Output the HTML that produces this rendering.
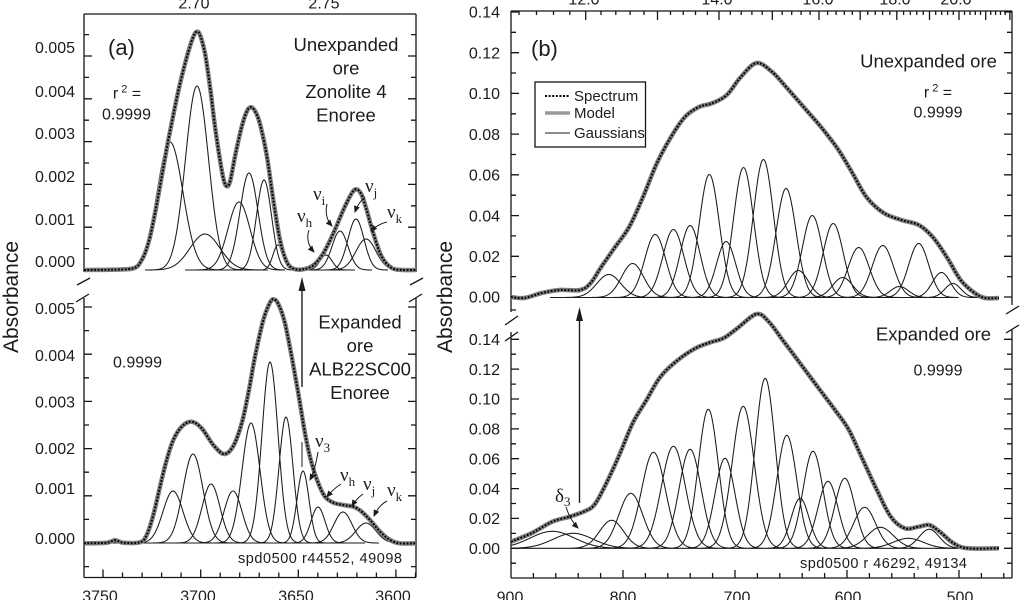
<!DOCTYPE html>
<html><head><meta charset="utf-8"><title>Absorbance spectra</title>
<style>
html,body{margin:0;padding:0;background:#fff;width:1024px;height:600px;overflow:hidden}
svg{display:block}
text{font-family:"Liberation Sans",Arial,sans-serif;fill:#1c1c1c}
.t{font-size:16px}
.lab{font-size:18.5px}
.nu{font-family:"Liberation Serif",serif;font-size:19px}
</style></head><body>
<svg width="1024" height="600" viewBox="0 0 1024 600" xmlns="http://www.w3.org/2000/svg">
<defs><marker id="ah" markerWidth="7" markerHeight="6" refX="6" refY="3" orient="auto" markerUnits="userSpaceOnUse"><path d="M0,0L7,3L0,6z" fill="#1c1c1c"/></marker></defs>

<path id="axes" d="" stroke="#151515" stroke-width="1.3" fill="none"/>
<path id="gauss" d="" stroke="#1a1a1a" stroke-width="1.05" fill="none"/>
<path id="envG" d="" stroke="#7d7d7d" stroke-width="4.5" fill="none" stroke-linejoin="round"/>
<path id="envD" d="" stroke="#000" stroke-width="2" stroke-dasharray="1.8,1.6" fill="none"/>

<!-- arrows -->
<g stroke="#1c1c1c" stroke-width="1" fill="none">
<path d="M309,230 Q305,242 314,252" marker-end="url(#ah)"/>
<path d="M327,204 Q324,217 332,226" marker-end="url(#ah)"/>
<path d="M365,197 Q358,203 355,212" marker-end="url(#ah)"/>
<path d="M387,222 Q378,224 371,231" marker-end="url(#ah)"/>
<path d="M318,452 Q315,470 310,480" marker-end="url(#ah)"/>
<path d="M341,484 Q333,489 327,497" marker-end="url(#ah)"/>
<path d="M363,494 Q356,499 352,506" marker-end="url(#ah)"/>
<path d="M387,501 Q379,505 374,516" marker-end="url(#ah)"/>
<path d="M302,442 L302,467"/>
<path d="M566,507 Q570,520 578,528" marker-end="url(#ah)"/>
<path d="M302,387 L302,288" stroke-width="1.4"/>
<path d="M579.5,503 L579.5,318" stroke-width="1.4"/>
</g>
<polygon points="302,277 298.5,291 305.5,291" fill="#1c1c1c"/>
<polygon points="579.5,307 576,321 583,321" fill="#1c1c1c"/>

<!-- tick labels -->
<g class="t" text-anchor="end">
<text x="75" y="53">0.005</text><text x="75" y="97">0.004</text><text x="75" y="139">0.003</text>
<text x="75" y="182">0.002</text><text x="75" y="225">0.001</text><text x="75" y="267">0.000</text>
<text x="75" y="314">0.005</text><text x="75" y="361">0.004</text><text x="75" y="407.5">0.003</text>
<text x="75" y="454">0.002</text><text x="75" y="494">0.001</text><text x="75" y="544">0.000</text>
<text x="500" y="17.7">0.14</text><text x="500" y="58.4">0.12</text><text x="500" y="99.1">0.10</text>
<text x="500" y="139.8">0.08</text><text x="500" y="180.5">0.06</text><text x="500" y="221.3">0.04</text>
<text x="500" y="262">0.02</text><text x="500" y="302.7">0.00</text>
<text x="500" y="345">0.14</text><text x="500" y="374.8">0.12</text><text x="500" y="404.7">0.10</text>
<text x="500" y="434.6">0.08</text><text x="500" y="464.4">0.06</text><text x="500" y="494.3">0.04</text>
<text x="500" y="524.1">0.02</text><text x="500" y="554">0.00</text>
</g>
<g class="t" text-anchor="middle">
<text x="100" y="601.5">3750</text><text x="198" y="601.5">3700</text><text x="296" y="601.5">3650</text><text x="393" y="601.5">3600</text>
<text x="510" y="602.5">900</text><text x="623" y="602.5">800</text><text x="737" y="602.5">700</text><text x="848" y="602.5">600</text><text x="960" y="602.5">500</text>
<text x="194" y="8.5">2.70</text><text x="324" y="8.5">2.75</text>
<text x="584" y="4.5">12.0</text><text x="717" y="4.5">14.0</text><text x="818" y="4.5">16.0</text><text x="895" y="4.5">18.0</text><text x="956" y="4.5">20.0</text>
</g>

<text x="18" y="297" font-size="21" text-anchor="middle" transform="rotate(-90 18 297)">Absorbance</text>
<text x="452" y="297" font-size="21" text-anchor="middle" transform="rotate(-90 452 297)">Absorbance</text>

<!-- annotations -->
<text x="108" y="55" font-size="22">(a)</text>
<g class="lab" text-anchor="middle">
<text x="346" y="51">Unexpanded</text><text x="346" y="74.5">ore</text><text x="346" y="98">Zonolite 4</text><text x="346" y="121.5">Enoree</text>
<text x="360" y="328.5">Expanded</text><text x="360" y="352">ore</text><text x="360" y="375.5">ALB22SC00</text><text x="360" y="399">Enoree</text>
<text x="928.5" y="67.5">Unexpanded ore</text>
<text x="933.5" y="340.5">Expanded ore</text>
</g>
<g font-size="16" text-anchor="middle">
<text x="127" y="98.5">r<tspan font-size="11" dy="-6"> 2</tspan><tspan dy="6"> =</tspan></text>
<text x="126.5" y="119.5">0.9999</text>
<text x="137.5" y="367.5">0.9999</text>
<text x="938" y="97.5">r<tspan font-size="11" dy="-6"> 2</tspan><tspan dy="6"> =</tspan></text>
<text x="938" y="117.5">0.9999</text>
<text x="938" y="375.7">0.9999</text>
</g>
<text x="238" y="563" font-size="14.5" textLength="164">spd0500 r44552, 49098</text>
<text x="800" y="568" font-size="14.5" textLength="167">spd0500 r 46292, 49134</text>

<text class="nu" x="297" y="222">ν<tspan font-size="13" dy="5">h</tspan></text>
<text class="nu" x="313" y="200">ν<tspan font-size="13" dy="5">i</tspan></text>
<text class="nu" x="365" y="192">ν<tspan font-size="13" dy="5">j</tspan></text>
<text class="nu" x="387" y="218">ν<tspan font-size="13" dy="5">k</tspan></text>
<text class="nu" x="315" y="447">ν<tspan font-size="13" dy="5">3</tspan></text>
<text class="nu" x="340" y="481">ν<tspan font-size="13" dy="5">h</tspan></text>
<text class="nu" x="363" y="490">ν<tspan font-size="13" dy="5">j</tspan></text>
<text class="nu" x="387" y="496">ν<tspan font-size="13" dy="5">k</tspan></text>
<text class="nu" x="555" y="502">δ<tspan font-size="13" dy="4">3</tspan></text>

<!-- panel b legend -->
<text x="531" y="56" font-size="22">(b)</text>
<rect x="535" y="82" width="110.5" height="65" fill="#fff" stroke="#151515" stroke-width="1.3"/>
<line x1="545" y1="96" x2="570" y2="96" stroke="#000" stroke-width="2" stroke-dasharray="2,1.6"/>
<line x1="545" y1="113" x2="570" y2="113" stroke="#999" stroke-width="3.5"/>
<line x1="545" y1="133" x2="570" y2="133" stroke="#1a1a1a" stroke-width="1"/>
<g font-size="15">
<text x="574" y="101">Spectrum</text><text x="574" y="118">Model</text><text x="574" y="138">Gaussians</text>
</g>
</svg>
<script>
(function(){
var ax='';
function L(a,b,c,d){ax+='M'+a.toFixed(1)+','+b.toFixed(1)+'L'+c.toFixed(1)+','+d.toFixed(1);}
// panel a frame
L(84,14,416,14);L(84,14,84,272);L(416,14,416,272);
L(84,298,84,577.5);L(416,298,416,577.5);L(84,577.5,416,577.5);
var k,y,len,x,i;
for(k=0;k<=11;k++){y=270-k*21.4;len=(k%2==0)?8:5;L(84,y,84+len,y);L(416,y,416-len,y);}
for(k=-1;k<=10;k++){y=543-k*23.6;len=(k%2==0)?8:5;L(84,y,84+len,y);L(416,y,416-len,y);}
for(i=67;i<=78;i++){var cm=10000/(i/100);x=103+(3750-cm)*1.953;len=(i==70||i==75)?9:5;L(x,14,x,14+len);}
for(var c=3750;c>=3590;c-=10){x=103+(3750-c)*1.953;len=(c%50==0)?8:5;L(x,577.5,x,577.5-len);}
L(77,285,90,278);L(76,302,89,294);L(410,285,423,278);L(409,302,422,294);
// panel b frame
L(511,11,1012,11);L(511,11,511,312);L(1012,11,1012,305);
L(511,332,511,578);L(1012,330,1012,578);L(511,578,1012,578);
for(k=0;k<=14;k++){y=297-k*20.36;len=(k%2==0)?8:5;L(511,y,511+len,y);L(1012,y,1012-len,y);}
L(511,310,516,310);
for(k=-1;k<=14;k++){y=548.3-k*14.93;len=(k%2==0)?8:5;L(511,y,511+len,y);L(1012,y,1012-len,y);}
for(i=56;i<=110;i++){var lam=i/5;var cm2=10000/lam;x=511+(900-cm2)*1.12;if(x<511.5||x>1011.5)continue;len=(i%5==0)?9:4;L(x,11,x,11+len);}
for(var c2=900;c2>=460;c2-=20){x=511+(900-c2)*1.12;len=(c2%100==0)?8:5;L(x,578,x,578-len);}
L(505,325,518,316);L(505,341,518,332);L(1006,314,1019,306);L(1006,333,1019,325);
document.getElementById('axes').setAttribute('d',ax);

// gaussians
var g='';
function gp(list,base,xmin,xmax){
 list.forEach(function(q){var cc=q[0],h=q[1],s=q[2];var x0=Math.max(xmin,cc-4*s),x1=Math.min(xmax,cc+4*s);var d='';
  for(var xx=x0;xx<=x1+0.01;xx+=0.5){var yy=base-h*Math.exp(-(xx-cc)*(xx-cc)/(2*s*s));d+=(d?'L':'M')+xx.toFixed(1)+','+yy.toFixed(2);}
  g+=d;});
}
gp([[170,128,13],[197,184,11.5],[205,36,15],[239,68,11],[249,97,9],[264,90,7.5],[278,25,5],[326,15,6],[340,39,8],[356,51,8],[366,31,10]],270,84,416);
gp([[173,52,10],[193,89,10],[211,59,9],[233,52,9],[251,120,9],[270,181,8],[286,126,7],[303,72,6],[318,36,7],[343,31,9],[366,20,10]],543,84,416);
gp([[608.8,23,12],[632.6,34,11],[655.2,63,10.5],[673.4,68,10.5],[690.1,72,10],[709.3,123,10],[726.1,56,9.5],[743.5,130,10],[763.4,138,10],[786.1,109,10],[798.3,27,10],[812.3,82,10],[833.2,74,10],[842.7,20,10],[858.7,50,10.5],[882.8,52,10.5],[899.5,11,9],[918.7,54,10],[941.4,25,9],[952.9,14,8]],297.5,511,1012);
gp([[552.3,17,22],[573.2,15,20],[611.6,28,12],[630.8,55,12],[653.5,96,12],[673.4,102,12],[690.1,99,11],[708.3,139,10],[725,90,10],[743.2,142,11],[765.2,170,10],[786.8,113,10],[800.1,50,9],[813,97,10],[828,67,10],[844.8,70,10],[864.6,41,11],[880.4,21,13],[908.3,10,15],[929.2,19,10]],548.3,511,1012);
g+='M185,270L268,270M290,270L355,270M84,543L365,543M550,297.5L954,297.5M511,548.3L999,548.3';
document.getElementById('gauss').setAttribute('d',g);

// envelopes
function cr(pts){var d='M'+pts[0][0].toFixed(1)+','+pts[0][1].toFixed(1);
 for(var j=0;j<pts.length-1;j++){var p0=pts[j-1]||pts[j],p1=pts[j],p2=pts[j+1],p3=pts[j+2]||pts[j+1];
  var a=[p1[0]+(p2[0]-p0[0])/6,p1[1]+(p2[1]-p0[1])/6,p2[0]-(p3[0]-p1[0])/6,p2[1]-(p3[1]-p1[1])/6,p2[0],p2[1]];
  d+='C'+a.map(function(v){return v.toFixed(1);}).join(',');}
 return d;}
var ua=[[252,810],[330,809],[400,805],[425,780],[445,730],[465,640],[485,530],[505,420],[525,320],[545,230],[565,155],[580,110],[590,95],[600,105],[615,160],[630,260],[645,380],[660,480],[670,535],[679,558],[690,545],[706,465],[724,385],[740,335],[752,322],[765,333],[780,372],[800,465],[820,600],[840,720],[860,785],[880,806],[910,808],[940,796],[970,760],[1000,700],[1030,630],[1055,580],[1070,568],[1085,585],[1100,630],[1120,700],[1145,770],[1175,804],[1210,810],[1248,810]].map(function(p){return [p[0]/3,p[1]/3];});
var la=[[252,790],[320,788],[345,781],[370,788],[420,787],[440,765],[460,705],[480,620],[500,540],[520,480],[545,440],[575,425],[605,445],[640,495],[672,522],[700,498],[725,430],[745,340],[765,230],[790,120],[808,72],[820,58],[835,72],[855,130],[875,230],[895,340],[915,460],[935,550],[955,610],[975,650],[1000,668],[1030,675],[1060,680],[1085,695],[1110,720],[1140,755],[1170,780],[1200,790],[1248,790]].map(function(p){return [p[0]/3,280+p[1]/3];});
var ub=[[511,297],[524.4,298],[541.8,293],[559.3,290],[580.2,290],[590.7,283],[601.2,267],[615.1,247],[629.1,227],[643,197],[657,163],[671,137],[684.9,117],[698.9,107],[712.8,103],[726.8,95],[740.8,77],[756.5,63],[772.2,72],[786.1,87],[803.6,107],[821,127],[838.5,150],[852.4,173],[866.4,197],[883.8,213],[901.3,220],[918.7,225],[932.7,237],[946.7,257],[960.6,280],[974.6,293],[985,298],[999,298]];
var lb=[[511,541.7],[531.4,533.3],[552.3,521.7],[569.7,516.7],[583.7,511.7],[594.2,505],[604.6,486.7],[618.6,456.7],[632.6,423.3],[646.5,400],[660.5,376.7],[677.9,360],[695.4,348.3],[709.3,342.7],[723.3,338.3],[737.3,328.3],[756.5,314],[768.7,321.7],[782.6,340],[800.1,363.3],[817.5,386.7],[835,410],[848.9,430],[862.9,460],[876.9,490],[890.8,516.7],[904.8,528.3],[918.7,526.7],[929.2,525],[939.7,531.7],[953.6,543.3],[967.6,548.3],[999,548.3]];
var e=cr(ua)+cr(la)+cr(ub)+cr(lb);
document.getElementById('envG').setAttribute('d',e);
document.getElementById('envD').setAttribute('d',e);
})();
</script>
</body></html>
